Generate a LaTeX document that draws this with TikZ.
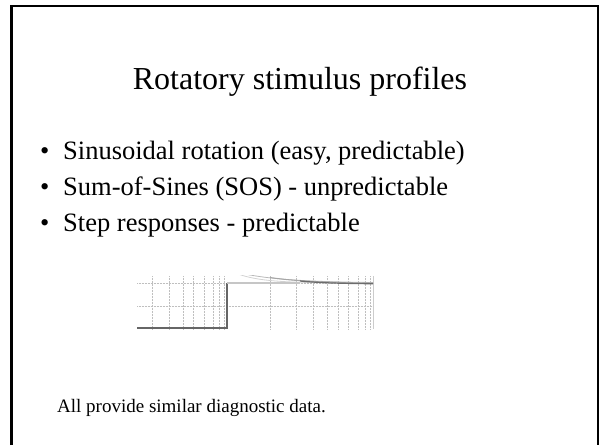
\documentclass[tikz,border=0pt]{standalone}
\usepackage{fontspec}
\setmainfont{Liberation Serif}

\begin{document}
\begin{tikzpicture}[x=1pt,y=-1pt]

  \useasboundingbox (0,0) rectangle (600,445);

  % slide frame, open at the bottom
  \draw [line width=2.5pt] (11.5,445) -- (11.5,6) -- (598,6) -- (598,445);

  \node [anchor=base] (title) at (300,89) {\fontsize{32}{36}\selectfont Rotatory stimulus profiles};

  \node [anchor=base west,inner sep=0] (b1) at (40,159) {\fontsize{26.5}{30}\selectfont\textbullet};
  \node [anchor=base west,inner sep=0] (t1) at (63,159) {\fontsize{26.5}{30}\selectfont Sinusoidal rotation (easy, predictable)};
  \node [anchor=base west,inner sep=0] (b2) at (40,195) {\fontsize{26.5}{30}\selectfont\textbullet};
  \node [anchor=base west,inner sep=0] (t2) at (63,195) {\fontsize{26.5}{30}\selectfont Sum-of-Sines (SOS) - unpredictable};
  \node [anchor=base west,inner sep=0] (b3) at (40,231) {\fontsize{26.5}{30}\selectfont\textbullet};
  \node [anchor=base west,inner sep=0] (t3) at (63,231) {\fontsize{26.5}{30}\selectfont Step responses - predictable};

  % step response plot
  \foreach \gx in {152,169,183,193,204,213,219,224,270,296,313,327,338,348,358,365,370}
    \draw [gray!50, densely dotted, line width=0.5pt] (\gx,276) -- (\gx,329);
  \draw [gray!50, densely dotted, line width=0.5pt] (137,283) -- (373,283);
  \draw [gray!50, densely dotted, line width=0.5pt] (137,306) -- (373,306);
  \draw [gray!40, line width=0.6pt] (373,276) -- (373,329);

  \begin{scope}
    \clip (137,275) rectangle (374,330);
    \draw [gray!35, line width=0.8pt, domain=227:373, samples=40] plot (\x,{283-14*exp(-(\x-227)/25)});
    \draw [gray!55, line width=0.8pt, domain=240:373, samples=40] plot (\x,{283-10*exp(-(\x-240)/45)});
    \draw [gray!70, line width=1pt, domain=270:373, samples=40] plot (\x,{283.5-6*exp(-(\x-270)/40)});
    \draw [gray!85!black, line width=1.2pt, domain=300:373, samples=30] plot (\x,{284-3*exp(-(\x-300)/30)});
  \end{scope}

  \draw [gray!80!black, line width=1.5pt] (137,328) -- (227,328) -- (227,283);
  \draw [gray!45, line width=1.2pt] (227,283) -- (300,283);

  \node [anchor=base west,inner sep=0] (note) at (57,412) {\fontsize{19}{22}\selectfont All provide similar diagnostic data.};

\end{tikzpicture}
\end{document}
